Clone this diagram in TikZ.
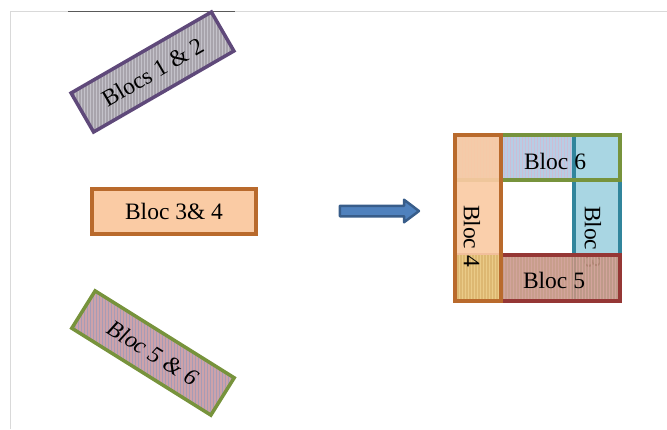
\documentclass[tikz,border=0pt]{standalone}
\usepackage{fontspec}
\setmainfont{Liberation Serif}
\usetikzlibrary{shapes.arrows,patterns}

\definecolor{plumline}{HTML}{5F497A}
\definecolor{plumfill}{HTML}{A8A4AC}
\definecolor{plumstripe}{HTML}{C4C2CA}
\definecolor{orangeline}{HTML}{B96A2C}
\definecolor{orangefill}{HTML}{FACBA4}
\definecolor{oliveline}{HTML}{77933C}
\definecolor{rosefill}{HTML}{CDA2AA}
\definecolor{rosestripe}{HTML}{A69CB6}
\definecolor{arrowline}{HTML}{385D8A}
\definecolor{arrowfill}{HTML}{4F81BD}
\definecolor{skyfill}{HTML}{B7CDE5}
\definecolor{skystripe}{HTML}{CDBDD4}
\definecolor{tealline}{HTML}{31859C}
\definecolor{tealfill}{HTML}{A9D6E3}
\definecolor{brickline}{HTML}{953735}
\definecolor{brickfill}{HTML}{C29480}
\definecolor{brickstripe}{HTML}{D3A49C}
\definecolor{sandfill}{HTML}{DDB872}
\definecolor{sandstripe}{HTML}{EACB88}
\definecolor{frameline}{HTML}{D9D9D9}

\newcommand{\blocfont}{\fontsize{23.5}{26}\selectfont}

\begin{document}
\begin{tikzpicture}[x=1pt, y=-1pt,
    every node/.style={font=\blocfont},
    blk/.style={rectangle, inner sep=0pt, outer sep=0pt, line width=3.5pt},
    striped/.style 2 args={preaction={fill=#1}, pattern=vertical lines, pattern color=#2},
    edge/.style={line width=3.5pt}]
    \useasboundingbox (0,0) rectangle (667,429);
    % page frame
    \draw[frameline, line width=1pt] (10,429) -- (10,11) -- (667,11);
    \draw[black!65, line width=1pt] (68,11) -- (235,11);
    % separate blocs
    \node[blk, draw=plumline, striped={plumfill}{plumstripe}, minimum width=162, minimum height=45, rotate=30] (blocs12) at (152.5,72) {Blocs 1 \& 2};
    \node[blk, draw=orangeline, fill=orangefill, minimum width=164, minimum height=45] (bloc34) at (174,211.5) {Bloc 3\& 4};
    \node[blk, draw=oliveline, striped={rosefill}{rosestripe}, minimum width=164, minimum height=44, rotate=-32, font=\blocfont\itshape] (bloc56) at (153,353) {Bloc 5 \& 6};
    % arrow
    \node[single arrow, draw=arrowline, fill=arrowfill, line width=2.5pt, line join=round, inner xsep=0pt, inner ysep=4pt,
          text height=0pt, text depth=0pt, minimum height=79, single arrow head extend=6pt,
          single arrow tip angle=74, single arrow head indent=0pt] (shiftarrow) at (376,211) {};
    % assembled frame
    \node[blk, striped={skyfill}{skystripe}, minimum width=165, minimum height=45] (bloc6) at (537.5,157.5) {};
    \node[blk, draw=tealline, fill=tealfill, minimum width=46, minimum height=166] (bloc3) at (597,218) {};
    \draw[edge, oliveline] (bloc6.north west) rectangle (bloc6.south east);
    \node[rotate=-90] (bloc3lbl) at (593,237) {Bloc 3};
    \node[blk, draw=brickline, striped={brickfill}{brickstripe}, fill opacity=0.9, minimum width=165, minimum height=46] (bloc5) at (537.5,278) {};
    \node[blk, fill=orangefill, fill opacity=0.92, minimum width=46, minimum height=166] (bloc4) at (478,218) {};
    \node[blk, striped={sandfill}{sandstripe}, minimum size=46] (bloc4foot) at (478,278) {};
    \draw[edge, orangeline] (bloc4.north west) rectangle (bloc4.south east);
    \node (bloc6lbl) at (555,161) {Bloc 6};
    \node (bloc5lbl) at (554,280) {Bloc 5};
    \node[rotate=-90] (bloc4lbl) at (472,236) {Bloc 4};
\end{tikzpicture}
\end{document}
